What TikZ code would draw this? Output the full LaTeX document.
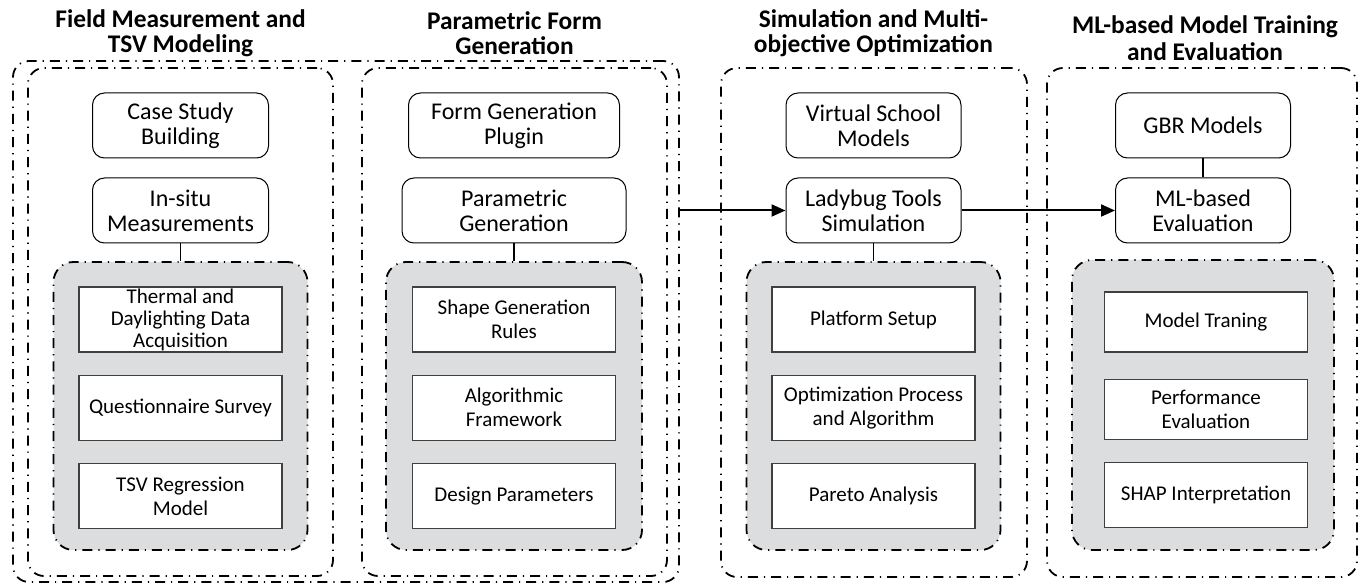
\documentclass[tikz,border=0pt]{standalone}
\usepackage{fontspec}
\setmainfont{Carlito}
\usetikzlibrary{arrows.meta,positioning}
\definecolor{boxgray}{RGB}{220,221,223}

\begin{document}
\begin{tikzpicture}
[x=0.5pt,y=-0.5pt,
dashdot/.style={draw,line width=0.9pt,dash pattern=on 5pt off 3pt on 0.6pt off 3pt,inner sep=0pt},
panel/.style={dashdot,rounded corners=8pt},
group/.style={dashdot,rounded corners=10pt,fill=boxgray,minimum height=144pt},
stage/.style={draw,rounded corners=6pt,line width=0.5pt,inner sep=1pt,minimum height=32.5pt,
	align=center,font=\fontsize{12}{12.5}\selectfont},
task/.style={draw=black!75,fill=white,line width=0.6pt,inner sep=0pt,minimum width=101.5pt,
	minimum height=32.5pt,align=center,font=\fontsize{10.5}{12}\selectfont},
head/.style={align=center,font=\fontsize{12.7}{12.5}\selectfont\bfseries},
flow/.style={-{Triangle[length=7pt,width=6pt]},line width=1pt},
link/.style={line width=0.6pt}]

\useasboundingbox (0,0) rectangle (1362,583);

% frames
\node[panel,minimum width=333pt,minimum height=260.5pt] (outer) at (346,321.5) {};
\node[panel,minimum width=152.5pt,minimum height=254pt] (p1) at (180.5,322) {};
\node[panel,minimum width=152.5pt,minimum height=254pt] (p2) at (514.5,322) {};
\node[panel,minimum width=153pt,minimum height=254.5pt] (p3) at (874,322.5) {};
\node[panel,minimum width=155pt,minimum height=254.5pt] (p4) at (1202,322.5) {};

\node[head] (h1) at (180.5,33.5) {Field Measurement and\\TSV Modeling};
\node[head] (h2) at (514.5,33.5) {Parametric Form\\Generation};
\node[head] (h3) at (873.5,33.5) {Simulation and Multi-\\objective Optimization};
\node[head,font=\fontsize{12.7}{13.5}\selectfont\bfseries] (h4) at (1205,38.5) {ML-based Model Training\\and Evaluation};

% field measurement
\node[stage,minimum width=88pt] (s11) at (180.5,125.5) {Case Study\\Building};
\node[stage,minimum width=88pt,below=9.5pt of s11] (s12) {In-situ\\Measurements};
\node[group,minimum width=127pt] (g1) at (180.5,406) {};
\node[task,font=\fontsize{10.5}{11}\selectfont] (t11) at (180.5,319.5) {Thermal and\\Daylighting Data\\Acquisition};
\node[task,below=11pt of t11] (t12) {Questionnaire Survey};
\node[task,below=11pt of t12] (t13) {TSV Regression\\Model};
\draw[link] (s12) -- (g1);

% form generation
\node[stage,minimum width=105.5pt] (s21) at (514,125.5) {Form Generation\\Plugin};
\node[stage,minimum width=112pt,below=9.5pt of s21] (s22) {Parametric\\Generation};
\node[group,minimum width=128pt] (g2) at (514,406) {};
\node[task] (t21) at (514,319.5) {Shape Generation\\Rules};
\node[task,below=11pt of t21] (t22) {Algorithmic\\Framework};
\node[task,below=11pt of t22] (t23) {Design Parameters};
\draw[link] (s22) -- (g2);

% simulation
\node[stage,minimum width=87.5pt] (s31) at (873.5,125.5) {Virtual School\\Models};
\node[stage,minimum width=87.5pt,below=9.5pt of s31] (s32) {Ladybug Tools\\Simulation};
\node[group,minimum width=127pt] (g3) at (873.5,406) {};
\node[task] (t31) at (873.5,319.5) {Platform Setup};
\node[task,below=11pt of t31] (t32) {Optimization Process\\and Algorithm};
\node[task,below=11pt of t32] (t33) {Pareto Analysis};
\draw[link] (s32) -- (g3);

% ML evaluation
\node[stage,minimum width=87.5pt] (s41) at (1203,125.5) {GBR Models};
\node[stage,minimum width=87.5pt,below=9.5pt of s41] (s42) {ML-based\\Evaluation};
\node[group,minimum width=131pt,minimum height=145pt] (g4) at (1203,405) {};
\node[task,minimum height=30pt] (t41) at (1206,322) {Model Traning};
\node[task,minimum height=30pt,below=13pt of t41] (t42) {Performance\\Evaluation};
\node[task,below=11pt of t42] (t43) {SHAP Interpretation};
\draw[link] (s41) -- (s42);

\draw[flow] (outer.east |- s32.west) -- (s32);
\draw[flow] (s32) -- (s42);
\end{tikzpicture}
\end{document}
